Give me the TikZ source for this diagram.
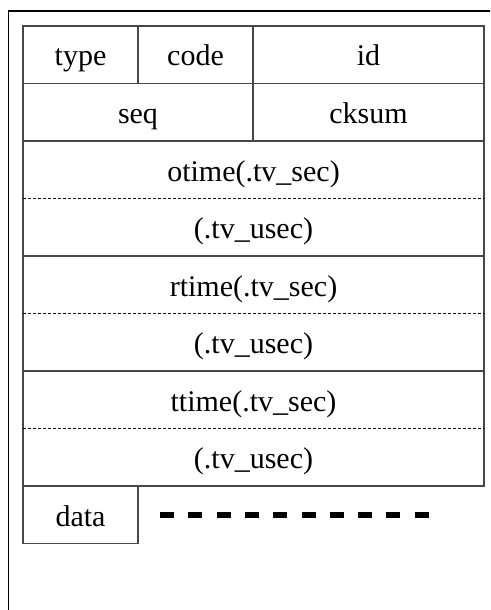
\documentclass[tikz,border=0pt]{standalone}
\usepackage{fontspec}
\setmainfont{Liberation Serif}
\begin{document}
\begin{tikzpicture}[x=1pt,y=-1pt,
  cell/.style={inner sep=0pt, outer sep=0pt, minimum height=57.5pt, text height=22.5pt, text depth=0pt,
    font=\fontsize{30}{36}\selectfont},
  gridline/.style={draw=black!72, line width=1.3pt},
  thinsep/.style={draw=black, line width=0.9pt, dash pattern=on 3pt off 2pt},
  frameline/.style={draw=black, line width=1.4pt},
  bigdash/.style={draw=black, line width=6.8pt, dash pattern=on 14pt off 14.3pt}
]
\useasboundingbox (0,0) rectangle (490,610);
\clip (0,0) rectangle (490,610);
% outer frame (extends beyond the picture to the right and bottom)
\draw[frameline] (8.5,620) -- (8.5,11) -- (500,11);
% cells
\node[cell, minimum width=115pt] (type) at (80.5,54.75) {type};
\node[cell, minimum width=115pt] (code) at (195.5,54.75) {code};
\node[cell, minimum width=231pt] (id) at (368.5,54.75) {id};
\node[cell, minimum width=230pt] (seq) at (138,112.25) {seq};
\node[cell, minimum width=231pt] (cksum) at (368.5,112.25) {cksum};
\node[cell, minimum width=461pt] (otime) at (253.5,169.75) {otime(.tv\_sec)};
\node[cell, minimum width=461pt] (ousec) at (253.5,227.25) {(.tv\_usec)};
\node[cell, minimum width=461pt] (rtime) at (253.5,284.75) {rtime(.tv\_sec)};
\node[cell, minimum width=461pt] (rusec) at (253.5,342.25) {(.tv\_usec)};
\node[cell, minimum width=461pt] (ttime) at (253.5,399.75) {ttime(.tv\_sec)};
\node[cell, minimum width=461pt] (tusec) at (253.5,457.25) {(.tv\_usec)};
\node[cell, minimum width=115pt, draw=black!72, line width=1.3pt] (data) at (80.5,514.75) {data};
% table border and solid separators
\draw[gridline] (type.north west) rectangle (tusec.south east);
\draw[gridline] (type.south west) -- (id.south east);
\draw[gridline] (seq.south west) -- (cksum.south east);
\draw[gridline] (ousec.south west) -- (ousec.south east);
\draw[gridline] (rusec.south west) -- (rusec.south east);
\draw[gridline] (type.north east) -- (type.south east);
\draw[gridline] (code.north east) -- (cksum.south west);
% dashed separators between sec and usec
\draw[thinsep] (otime.south west) -- (otime.south east);
\draw[thinsep] (rtime.south west) -- (rtime.south east);
\draw[thinsep] (ttime.south west) -- (ttime.south east);
% continuation dashes
\coordinate (dashstart) at (160,515);
\coordinate (dashend) at (433.5,515);
\draw[bigdash] (dashstart) -- (dashend);
\end{tikzpicture}
\end{document}
